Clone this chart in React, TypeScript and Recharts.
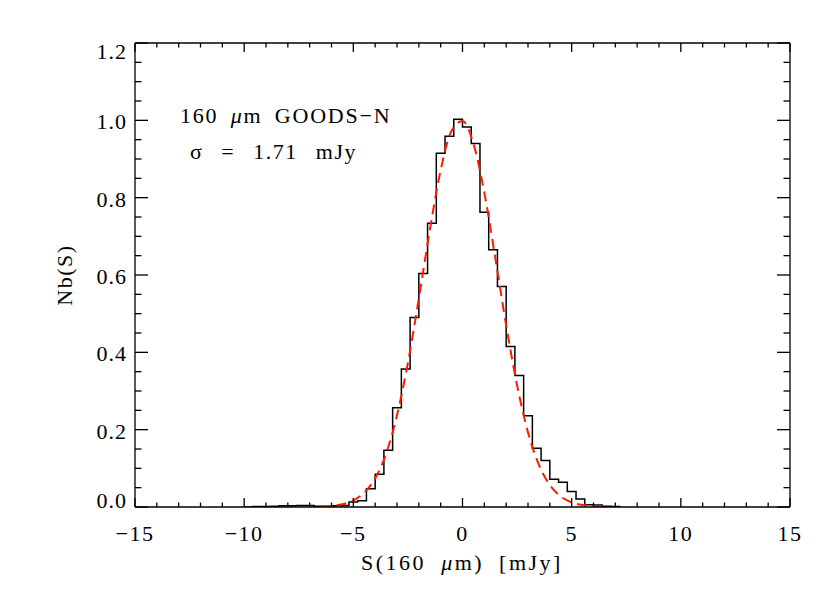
import React from 'react';
import { LineChart, Line, XAxis, YAxis } from 'recharts';

// histogram: left bin edges (mJy) and normalised counts, last edge closes the histogram
const binEdges = [
  -10.0, -9.6, -9.2, -8.8, -8.4, -8.0, -7.6, -7.2, -6.8, -6.4, -6.0, -5.6, -5.2, -4.8,
  -4.4, -4.0, -3.6, -3.2, -2.8, -2.4, -2.0, -1.6, -1.2, -0.8, -0.4, 0.0, 0.4, 0.8,
  1.2, 1.6, 2.0, 2.4, 2.8, 3.2, 3.6, 4.0, 4.4, 4.8, 5.2, 5.6, 6.0, 6.4, 6.8, 7.2,
];
const binCounts = [
  0.0, 0.001, 0.001, 0.002, 0.003, 0.003, 0.004, 0.004, 0.002, 0.002, 0.003, 0.004, 0.013, 0.016,
  0.047, 0.085, 0.147, 0.257, 0.357, 0.49, 0.604, 0.734, 0.915, 0.959, 1.003, 0.983, 0.94, 0.762,
  0.665, 0.57, 0.415, 0.34, 0.236, 0.152, 0.12, 0.072, 0.064, 0.04, 0.021, 0.006, 0.005, 0.002, 0.001, 0.0,
];

// gaussian fit (red dashed)
const fitX = [
  -6.5, -6, -5.5, -5, -4.5, -4, -3.5, -3, -2.5, -2, -1.5, -1, -0.5, 0,
  0.5, 1, 1.5, 2, 2.5, 3, 3.5, 4, 4.5, 5, 5.5, 6, 6.5,
];
const fitY = [
  0.001, 0.003, 0.007, 0.017, 0.037, 0.074, 0.138, 0.237, 0.373, 0.539, 0.715, 0.871, 0.973, 0.998,
  0.94, 0.813, 0.645, 0.47, 0.315, 0.193, 0.109, 0.057, 0.027, 0.012, 0.005, 0.002, 0.001,
];

const xMajorTicks = [-15, -10, -5, 0, 5, 10, 15];
const yMajorTicks = [0, 0.2, 0.4, 0.6, 0.8, 1.0, 1.2];
const X_MINOR_STEP = 1;
const Y_MINOR_STEP = 0.05;

const histData = binEdges.map((x, i) => ({ x, y: binCounts[i] }));
const fitData = fitX.map((x, i) => ({ x, y: fitY[i] }));

const xTicks: number[] = [];
for (let v = -15; v <= 15; v += X_MINOR_STEP) xTicks.push(v);
const yTicks: number[] = [];
for (let i = 0; i <= 24; i++) yTicks.push(Math.round(i * Y_MINOR_STEP * 100) / 100);

const FONT = '"Liberation Serif", serif';
const W = 830;
const H = 593;
const LEFT = 135;
const RIGHT = 40;
const TOP = 43;
const BOTTOM = 86;

const isXMajor = (v: number) => xMajorTicks.includes(v);
const isYMajor = (v: number) => yMajorTicks.some((t) => Math.abs(t - v) < 1e-6);
const fmtX = (v: number) => (v < 0 ? '\u2212' + Math.abs(v) : String(v));

const BottomTick = (props: any) => {
  const { x, y, payload } = props;
  const major = isXMajor(payload.value);
  return (
    <g>
      <line x1={x} x2={x} y1={y} y2={y - (major ? 9 : 4.5)} stroke="#000" strokeWidth={1.3} />
      {major && (
        <text x={x} y={y + 34} textAnchor="middle" fontFamily={FONT} fontSize={22} letterSpacing={1.5} fill="#000">
          {fmtX(payload.value)}
        </text>
      )}
    </g>
  );
};

const TopTick = (props: any) => {
  const { x, y, payload } = props;
  const major = isXMajor(payload.value);
  return <line x1={x} x2={x} y1={y} y2={y + (major ? 9 : 4.5)} stroke="#000" strokeWidth={1.3} />;
};

const LeftTick = (props: any) => {
  const { x, y, payload } = props;
  const v = payload.value;
  const major = isYMajor(v);
  let dy = 9;
  if (v === 0) dy = 1;
  if (Math.abs(v - 1.2) < 1e-6) dy = 16;
  return (
    <g>
      <line x1={x} x2={x + (major ? 13 : 6.5)} y1={y} y2={y} stroke="#000" strokeWidth={1.3} />
      {major && (
        <text x={x - 8} y={y + dy} textAnchor="end" fontFamily={FONT} fontSize={22} letterSpacing={1} fill="#000">
          {v.toFixed(1)}
        </text>
      )}
    </g>
  );
};

const RightTick = (props: any) => {
  const { x, y, payload } = props;
  const major = isYMajor(payload.value);
  return <line x1={x} x2={x - (major ? 13 : 6.5)} y1={y} y2={y} stroke="#000" strokeWidth={1.3} />;
};

const axisLine = { stroke: '#000', strokeWidth: 1.3 };

export default function App() {
  return (
    <div style={{ position: 'absolute', left: 0, top: 0, width: W, height: H, background: '#fff' }}>
      <LineChart width={W} height={H} margin={{ top: 0, right: 0, bottom: 0, left: 0 }}>
        <XAxis
          xAxisId="b"
          dataKey="x"
          type="number"
          orientation="bottom"
          domain={[-15, 15]}
          allowDataOverflow
          ticks={xTicks}
          interval={0}
          height={BOTTOM}
          tickSize={0}
          tickMargin={0}
          tickLine={false}
          axisLine={axisLine}
          tick={<BottomTick />}
        />
        <XAxis
          xAxisId="t"
          dataKey="x"
          type="number"
          orientation="top"
          domain={[-15, 15]}
          allowDataOverflow
          ticks={xTicks}
          interval={0}
          height={TOP}
          tickSize={0}
          tickMargin={0}
          tickLine={false}
          axisLine={axisLine}
          tick={<TopTick />}
        />
        <YAxis
          yAxisId="l"
          type="number"
          orientation="left"
          domain={[0, 1.2]}
          allowDataOverflow
          ticks={yTicks}
          interval={0}
          width={LEFT}
          tickSize={0}
          tickMargin={0}
          tickLine={false}
          axisLine={axisLine}
          tick={<LeftTick />}
        />
        <YAxis
          yAxisId="r"
          type="number"
          orientation="right"
          domain={[0, 1.2]}
          allowDataOverflow
          ticks={yTicks}
          interval={0}
          width={RIGHT}
          tickSize={0}
          tickMargin={0}
          tickLine={false}
          axisLine={axisLine}
          tick={<RightTick />}
        />
        <Line
          xAxisId="b"
          yAxisId="l"
          data={histData}
          dataKey="y"
          type="stepAfter"
          stroke="#000"
          strokeWidth={1.5}
          dot={false}
          isAnimationActive={false}
        />
        <Line
          xAxisId="b"
          yAxisId="l"
          data={fitData}
          dataKey="y"
          type="monotone"
          stroke="#ff1a00"
          strokeWidth={2}
          strokeDasharray="10 6"
          dot={false}
          isAnimationActive={false}
        />
      </LineChart>
      <svg
        width={W}
        height={H}
        style={{ position: 'absolute', left: 0, top: 0, pointerEvents: 'none' }}
        fontFamily={FONT}
        fontSize={22}
        fill="#000"
      >
        <text x={180} y={123} letterSpacing={1.8} wordSpacing={5}>
          160 <tspan fontStyle="italic">μ</tspan>m GOODS−N
        </text>
        <text x={190} y={159} letterSpacing={1.5} wordSpacing={11}>
          σ = 1.71 mJy
        </text>
        <text x={462} y={570} textAnchor="middle" letterSpacing={2.5} wordSpacing={7}>
          S(160 <tspan fontStyle="italic">μ</tspan>m) [mJy]
        </text>
        <text x={72} y={275} textAnchor="middle" letterSpacing={1.5} transform="rotate(-90 72 275)">
          Nb(S)
        </text>
      </svg>
    </div>
  );
}
